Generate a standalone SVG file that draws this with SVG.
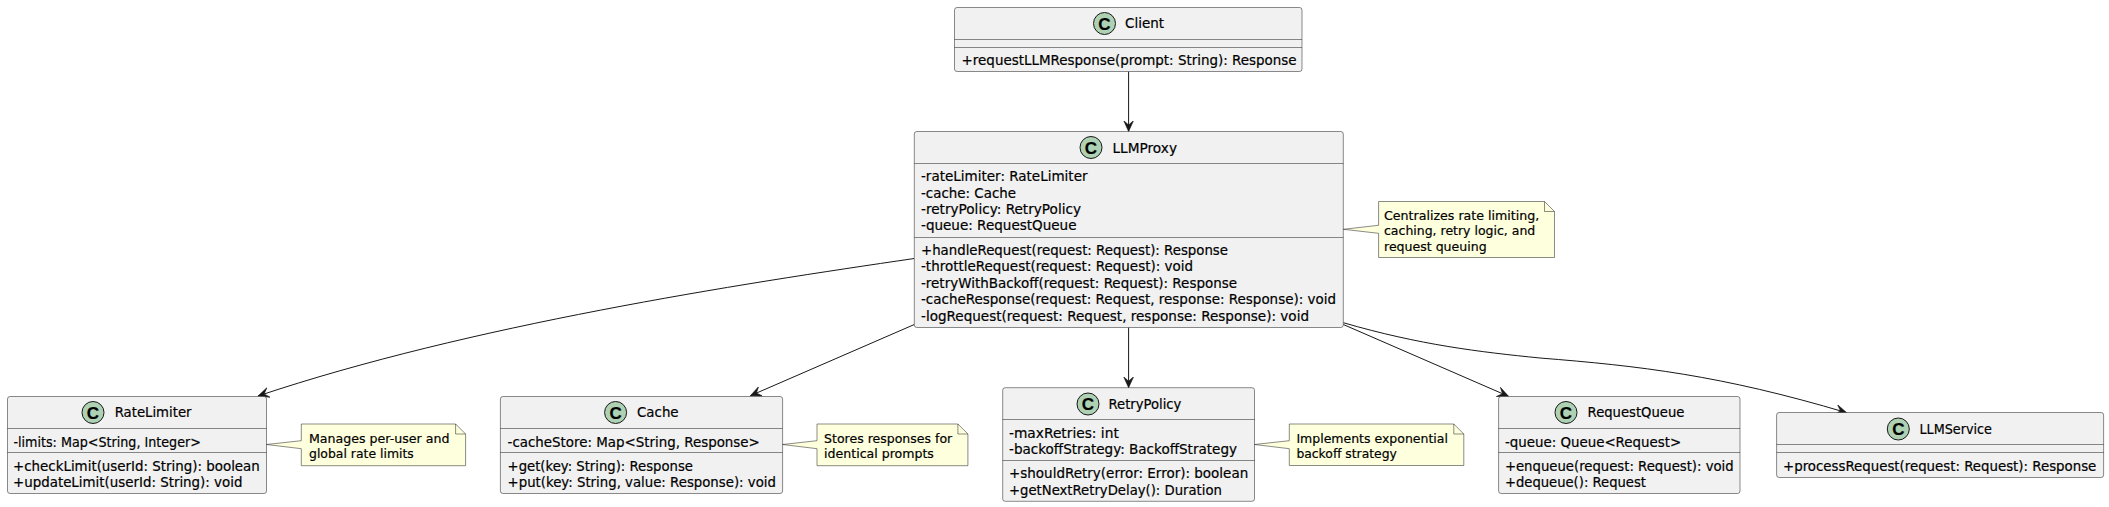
<svg xmlns="http://www.w3.org/2000/svg" width="2109" height="507" viewBox="0 0 2109 507">
<defs>
<marker id="arrow" markerUnits="userSpaceOnUse" markerWidth="14" markerHeight="12" refX="11" refY="6" orient="auto" viewBox="0 0 14 12"><path d="M0,1 L11,6 L0,11 L4.5,6 Z" fill="#181818" stroke="#181818" stroke-width="0.6"/></marker>
</defs>
<style>
text{font-family:"DejaVu Sans","Noto Sans",sans-serif;font-size:14px;fill:#000;stroke:#000;stroke-width:.2}
.box{fill:#F1F1F1;stroke:#181818;stroke-width:.5}
.sep{stroke:#181818;stroke-width:.5;fill:none}
.spot{fill:#ADD1B2;stroke:#181818;stroke-width:1}
.c{font-family:"Liberation Sans",sans-serif;font-weight:700;font-size:17px;text-anchor:middle}
.note{fill:#FEFFDD;stroke:#181818;stroke-width:.5}
.n{font-size:13px}
.link{fill:none;stroke:#181818;stroke-width:1;marker-end:url(#arrow)}
</style>
<rect width="2109" height="507" fill="#fff"/>
<g id="connectors">
<path class="link" d="M1128.6,71.5 L1128.6,131.5"/>
<path class="link" d="M914.3,258.5 C740,284 470,325 258,396"/>
<path class="link" d="M914.3,324.5 L750.4,395.7"/>
<path class="link" d="M1128.6,327.5 L1128.6,387.7"/>
<path class="link" d="M1343.3,324.5 L1508.5,396.3"/>
<path class="link" d="M1343.3,322.7 C1420,345 1480,352 1540,358 C1640,366 1720,375 1846.7,412.7"/>
</g>
<g id="Client">
<rect class="box" x="954.5" y="7.5" width="347.5" height="64" rx="2.5"/>
<path class="sep" d="M954.5,39.5H1302M954.5,47.5H1302"/>
<circle class="spot" cx="1104.5" cy="23.5" r="11"/><text class="c" x="1104.5" y="29.5">C</text>
<text x="1125" y="28" textLength="39" lengthAdjust="spacingAndGlyphs">Client</text>
<text x="961.6" y="65" textLength="335" lengthAdjust="spacingAndGlyphs">+requestLLMResponse(prompt: String): Response</text>
</g>
<g id="LLMProxy">
<rect class="box" x="914.3" y="131.5" width="429" height="196" rx="2.5"/>
<path class="sep" d="M914.3,163.5H1343.3M914.3,237.5H1343.3"/>
<circle class="spot" cx="1091" cy="147.5" r="11"/><text class="c" x="1091" y="153.5">C</text>
<text x="1112.5" y="152.5" textLength="64.5" lengthAdjust="spacingAndGlyphs">LLMProxy</text>
<text x="921" y="181" textLength="166.5" lengthAdjust="spacingAndGlyphs">-rateLimiter: RateLimiter</text>
<text x="921" y="197.5" textLength="95" lengthAdjust="spacingAndGlyphs">-cache: Cache</text>
<text x="921" y="214" textLength="160" lengthAdjust="spacingAndGlyphs">-retryPolicy: RetryPolicy</text>
<text x="921" y="230" textLength="155.5" lengthAdjust="spacingAndGlyphs">-queue: RequestQueue</text>
<text x="921" y="255" textLength="307" lengthAdjust="spacingAndGlyphs">+handleRequest(request: Request): Response</text>
<text x="921" y="271" textLength="272" lengthAdjust="spacingAndGlyphs">-throttleRequest(request: Request): void</text>
<text x="921" y="287.5" textLength="316" lengthAdjust="spacingAndGlyphs">-retryWithBackoff(request: Request): Response</text>
<text x="921" y="304" textLength="415" lengthAdjust="spacingAndGlyphs">-cacheResponse(request: Request, response: Response): void</text>
<text x="921" y="320.5" textLength="388" lengthAdjust="spacingAndGlyphs">-logRequest(request: Request, response: Response): void</text>
</g>
<g id="noteProxy">
<path class="note" d="M1378.6,201.5 H1544.5 L1554.5,211.5 V257.5 H1378.6 V233.3 L1343.3,229.3 L1378.6,225.3 Z"/>
<path class="sep" d="M1544.5,201.5 V211.5 H1554.5"/>
<text class="n" x="1384" y="219.5" textLength="155.3" lengthAdjust="spacingAndGlyphs">Centralizes rate limiting,</text>
<text class="n" x="1384" y="235" textLength="151.3" lengthAdjust="spacingAndGlyphs">caching, retry logic, and</text>
<text class="n" x="1384" y="250.5" textLength="102.6" lengthAdjust="spacingAndGlyphs">request queuing</text>
</g>
<g id="RateLimiter">
<rect class="box" x="7.5" y="396.5" width="259" height="97" rx="2.5"/>
<path class="sep" d="M7.5,428.5H266.5M7.5,452.5H266.5"/>
<circle class="spot" cx="93" cy="412.5" r="11"/><text class="c" x="93" y="418.5">C</text>
<text x="114.7" y="417" textLength="76.8" lengthAdjust="spacingAndGlyphs">RateLimiter</text>
<text x="13.4" y="447" textLength="187.5" lengthAdjust="spacingAndGlyphs">-limits: Map&lt;String, Integer&gt;</text>
<text x="13" y="470.5" textLength="246.8" lengthAdjust="spacingAndGlyphs">+checkLimit(userId: String): boolean</text>
<text x="13" y="487" textLength="229.4" lengthAdjust="spacingAndGlyphs">+updateLimit(userId: String): void</text>
</g>
<g id="noteRate">
<path class="note" d="M301.3,424 H455.6 L465.6,434 V465.7 H301.3 V448.7 L266.5,444.5 L301.3,440.7 Z"/>
<path class="sep" d="M455.6,424 V434 H465.6"/>
<text class="n" x="309" y="443" textLength="140.5" lengthAdjust="spacingAndGlyphs">Manages per-user and</text>
<text class="n" x="309" y="458" textLength="104.8" lengthAdjust="spacingAndGlyphs">global rate limits</text>
</g>
<g id="Cache">
<rect class="box" x="500.4" y="396.5" width="282.2" height="97" rx="2.5"/>
<path class="sep" d="M500.4,428.5H782.6M500.4,452.5H782.6"/>
<circle class="spot" cx="615.6" cy="412.5" r="11"/><text class="c" x="615.6" y="418.5">C</text>
<text x="637" y="417" textLength="41.6" lengthAdjust="spacingAndGlyphs">Cache</text>
<text x="507.6" y="447" textLength="252.2" lengthAdjust="spacingAndGlyphs">-cacheStore: Map&lt;String, Response&gt;</text>
<text x="507.6" y="470.5" textLength="185.3" lengthAdjust="spacingAndGlyphs">+get(key: String): Response</text>
<text x="507.6" y="487" textLength="268.3" lengthAdjust="spacingAndGlyphs">+put(key: String, value: Response): void</text>
</g>
<g id="noteCache">
<path class="note" d="M817,424 H957.9 L967.9,434 V465.7 H817 V448.7 L782.6,444.5 L817,440.7 Z"/>
<path class="sep" d="M957.9,424 V434 H967.9"/>
<text class="n" x="824.1" y="443" textLength="128.1" lengthAdjust="spacingAndGlyphs">Stores responses for</text>
<text class="n" x="824.1" y="458" textLength="109.8" lengthAdjust="spacingAndGlyphs">identical prompts</text>
</g>
<g id="RetryPolicy">
<rect class="box" x="1002.7" y="387.7" width="251.8" height="113.6" rx="2.5"/>
<path class="sep" d="M1002.7,419.5H1254.5M1002.7,460.5H1254.5"/>
<circle class="spot" cx="1088" cy="404" r="11"/><text class="c" x="1088" y="410">C</text>
<text x="1108.5" y="409" textLength="72.8" lengthAdjust="spacingAndGlyphs">RetryPolicy</text>
<text x="1009" y="437.5" textLength="109.8" lengthAdjust="spacingAndGlyphs">-maxRetries: int</text>
<text x="1009" y="454" textLength="228" lengthAdjust="spacingAndGlyphs">-backoffStrategy: BackoffStrategy</text>
<text x="1009" y="478" textLength="239.2" lengthAdjust="spacingAndGlyphs">+shouldRetry(error: Error): boolean</text>
<text x="1009" y="495" textLength="212.9" lengthAdjust="spacingAndGlyphs">+getNextRetryDelay(): Duration</text>
</g>
<g id="noteRetry">
<path class="note" d="M1289.3,424 H1453.8 L1463.8,434 V465.5 H1289.3 V448.7 L1254.5,444.5 L1289.3,440.7 Z"/>
<path class="sep" d="M1453.8,424 V434 H1463.8"/>
<text class="n" x="1296.4" y="443" textLength="151.5" lengthAdjust="spacingAndGlyphs">Implements exponential</text>
<text class="n" x="1296.4" y="458" textLength="100.5" lengthAdjust="spacingAndGlyphs">backoff strategy</text>
</g>
<g id="RequestQueue">
<rect class="box" x="1498.6" y="396.5" width="241.4" height="97" rx="2.5"/>
<path class="sep" d="M1498.6,428.5H1740M1498.6,452.5H1740"/>
<circle class="spot" cx="1566" cy="412.5" r="11"/><text class="c" x="1566" y="418.5">C</text>
<text x="1587.6" y="417" textLength="96.8" lengthAdjust="spacingAndGlyphs">RequestQueue</text>
<text x="1504.9" y="447" textLength="176.3" lengthAdjust="spacingAndGlyphs">-queue: Queue&lt;Request&gt;</text>
<text x="1504.9" y="470.5" textLength="228.8" lengthAdjust="spacingAndGlyphs">+enqueue(request: Request): void</text>
<text x="1504.9" y="487" textLength="141.1" lengthAdjust="spacingAndGlyphs">+dequeue(): Request</text>
</g>
<g id="LLMService">
<rect class="box" x="1776.6" y="412.5" width="327" height="65" rx="2.5"/>
<path class="sep" d="M1776.6,444.5H2103.6M1776.6,452.5H2103.6"/>
<circle class="spot" cx="1898.3" cy="429" r="11"/><text class="c" x="1898.3" y="435">C</text>
<text x="1919.5" y="434" textLength="72.4" lengthAdjust="spacingAndGlyphs">LLMService</text>
<text x="1783" y="470.5" textLength="313.3" lengthAdjust="spacingAndGlyphs">+processRequest(request: Request): Response</text>
</g>
</svg>
